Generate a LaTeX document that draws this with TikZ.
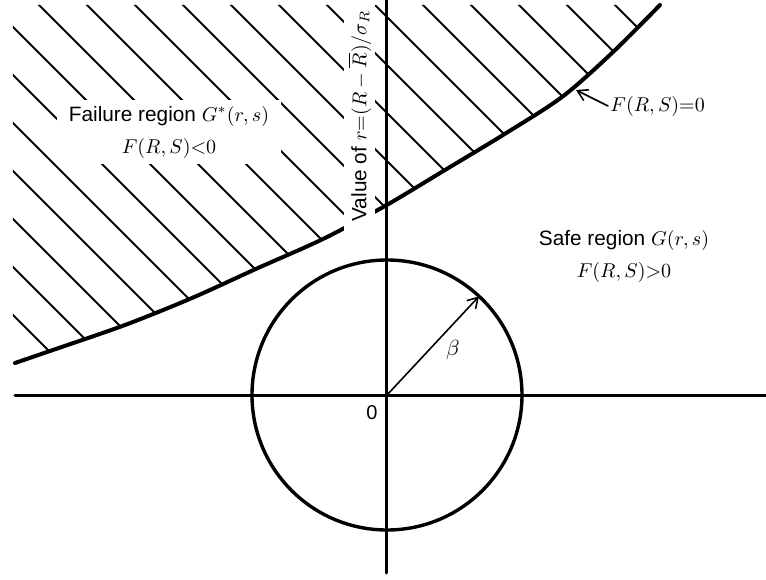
\documentclass[tikz,border=0pt]{standalone}
\usepackage{fontspec}
\setsansfont{Liberation Sans}
\usetikzlibrary{arrows.meta}

\tikzset{
  hatch/.style={line width=0.9pt},
  limitline/.style={line width=2pt},
  axisline/.style={line width=1.5pt},
  regiontext/.style={font=\sffamily\fontsize{10.4}{16}\selectfont,align=center},
}

\begin{document}
\begin{tikzpicture}[x=0.5pt,y=0.5pt,line cap=round,line join=round]
  \useasboundingbox (-387,-184) rectangle (379,395);
  \coordinate (O) at (0,0);
  % hatching of the failure region
  \begin{scope}
    \clip plot[smooth] coordinates {(-372,32) (-337,44) (-262,70) (-195,97) (-129,127) (-64,156) (-2,189) (58,225) (116,260) (175,298) (225,342) (273,390)}
      -- (-374,390) -- (-374,32) -- cycle;
    \foreach \c in {-294,-246,...,618}
      \draw[hatch] (-400,{\c+400}) -- (400,{\c-400});
  \end{scope}
  % limit state F(R,S)=0
  \draw[limitline] plot[smooth] coordinates {(-372,32) (-337,44) (-262,70) (-195,97) (-129,127) (-64,156) (-2,189) (58,225) (116,260) (175,298) (225,342) (273,390)};
  \node[regiontext,fill=white,minimum width=112pt,minimum height=32pt,inner sep=0pt] (failtxt) at (-218,263)
    {Failure region $G^{*}(r,s)$\\$F(R,S){<}0$};
  \node[regiontext] (safetxt) at (237,139) {Safe region $G(r,s)$\\$F(R,S){>}0$};
  \node[font=\sffamily\fontsize{10.4}{11}\selectfont,fill=white,rotate=90,minimum width=116pt,minimum height=15.5pt,inner sep=0pt] (ylbl) at (-27,279)
    {Value of $r{=}(R-\overline{R})/\sigma_R$};
  % axes
  \coordinate (xl) at (-372,0);
  \coordinate (xr) at (379,0);
  \coordinate (yb) at (0,-178);
  \coordinate (yt) at (0,395);
  \draw[axisline] (xl) -- (xr);
  \draw[axisline] (yb) -- (yt);
  \node[font=\sffamily\fontsize{10}{12}\selectfont] (zerolbl) at (-15,-18) {0};
  % beta circle
  \draw[line width=1.7pt] (O) circle (135);
  \coordinate (B) at (47:135);
  \draw[line width=0.8pt,-{Straight Barb[length=5pt,width=6pt]}] (O) -- (B);
  \node[font=\fontsize{11}{13}\selectfont] (betalbl) at (66,45) {$\beta$};
  % label of the limit state
  \node[font=\fontsize{10.4}{12}\selectfont,anchor=west,inner sep=1pt] (limitlbl) at (221,289) {$F(R,S){=}0$};
  \coordinate (L) at (189,305);
  \draw[line width=0.8pt,-{Straight Barb[length=5pt,width=6pt]}] (limitlbl.west) -- (L);
\end{tikzpicture}
\end{document}
